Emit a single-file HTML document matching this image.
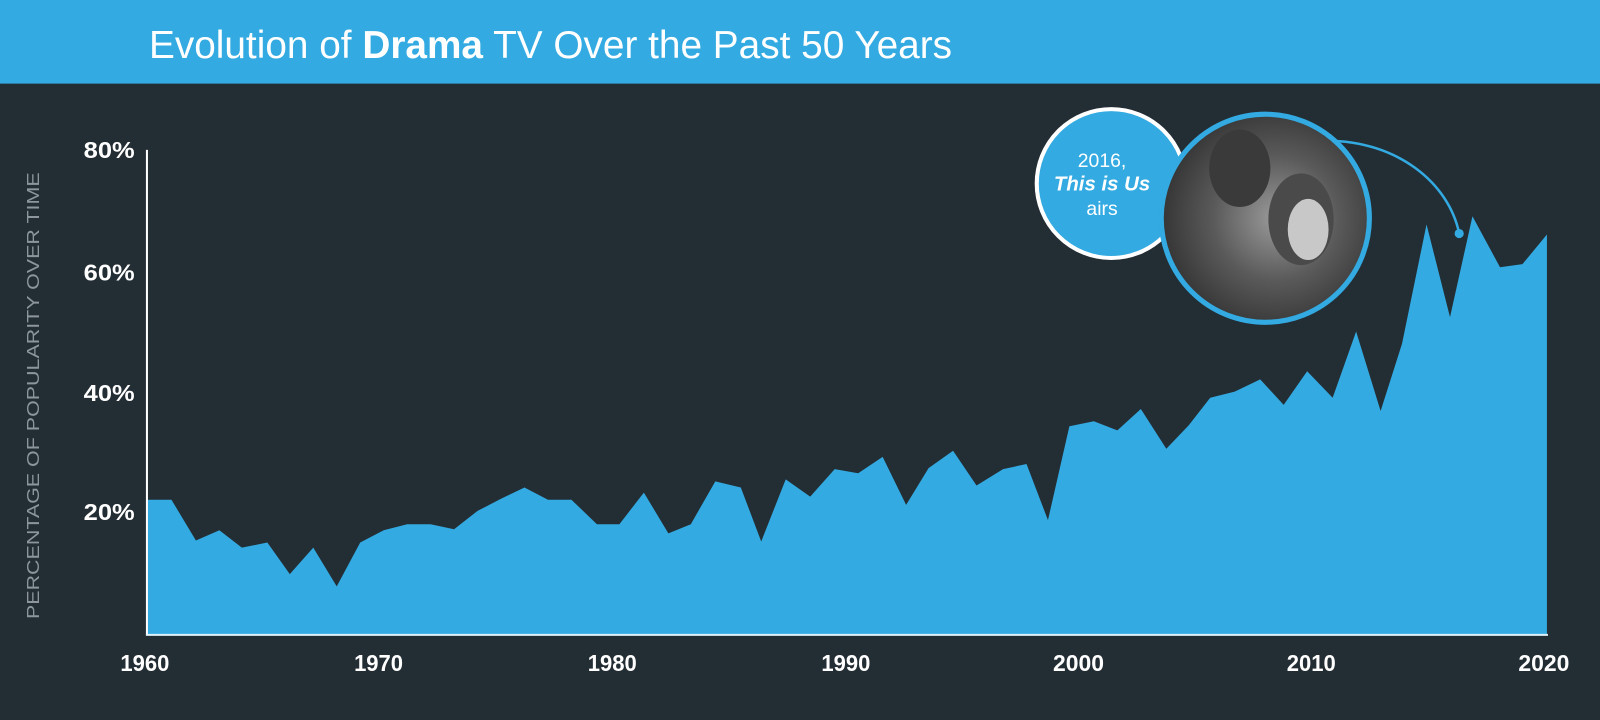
<!DOCTYPE html>
<html><head><meta charset="utf-8"><style>
html,body{margin:0;padding:0;background:#232d34;}
svg{display:block;}
</style></head><body>
<svg width="1600" height="720" viewBox="0 0 1568 706" preserveAspectRatio="none" xmlns="http://www.w3.org/2000/svg">
<rect x="0" y="0" width="1568" height="706" fill="#232d34"/>
<rect x="0" y="0" width="1568" height="82" fill="#33aae1"/>
<text x="146" y="57" font-family="Liberation Sans, sans-serif" font-size="38" fill="#ffffff" textLength="787" lengthAdjust="spacingAndGlyphs" font-weight="normal">Evolution of <tspan font-weight="bold">Drama</tspan> TV Over the Past 50 Years</text>

<polygon fill="#33aae1" points="145,622 145,490 168,490 192,530 215,520 237,537 262,532 284,563 307,537 330,575 353,532 376,520 399,514 422,514 445,519 468,501 491,489 514,478 537,490 560,490 585,514 607,514 631,483 655,523 677,514 701,472 726,478 746,531 770,470 794,487 818,460 841,464 865,448 888,495 910,459 934,442 957,476 983,460 1006,455 1027,510 1048,418 1072,413 1095,422 1118,401 1143,440 1165,417 1186,390 1210,384 1235,372 1258,397 1281,364 1306,390 1329,325 1353,403 1374,337 1398,220 1421,311 1443,212 1470,262 1492,259 1516,230 1516,622"/>
<line x1="144" y1="147" x2="144" y2="623" stroke="#ffffff" stroke-width="2"/>
<line x1="143" y1="622.5" x2="1517" y2="622.5" stroke="#dff1fa" stroke-width="2"/>

<g font-family="Liberation Sans, sans-serif" font-weight="bold" font-size="23" fill="#ffffff" lengthAdjust="spacingAndGlyphs">
<text x="82" y="155" textLength="50" lengthAdjust="spacingAndGlyphs">80%</text>
<text x="82" y="275" textLength="50" lengthAdjust="spacingAndGlyphs">60%</text>
<text x="82" y="393" textLength="50" lengthAdjust="spacingAndGlyphs">40%</text>
<text x="82" y="510" textLength="50" lengthAdjust="spacingAndGlyphs">20%</text>
<text x="118" y="658" textLength="48" lengthAdjust="spacingAndGlyphs">1960</text>
<text x="347" y="658" textLength="48" lengthAdjust="spacingAndGlyphs">1970</text>
<text x="576" y="658" textLength="48" lengthAdjust="spacingAndGlyphs">1980</text>
<text x="805" y="658" textLength="48" lengthAdjust="spacingAndGlyphs">1990</text>
<text x="1032" y="658" textLength="50" lengthAdjust="spacingAndGlyphs">2000</text>
<text x="1261" y="658" textLength="48" lengthAdjust="spacingAndGlyphs">2010</text>
<text x="1488" y="658" textLength="50" lengthAdjust="spacingAndGlyphs">2020</text>
</g>
<text transform="translate(38,388) rotate(-90)" text-anchor="middle" font-family="Liberation Sans, sans-serif" font-size="17" fill="#8d969c" textLength="438" lengthAdjust="spacingAndGlyphs">PERCENTAGE OF POPULARITY OVER TIME</text>

<path d="M1300,138 C1370,138 1420,180 1430,229" fill="none" stroke="#33aae1" stroke-width="2.5"/>
<circle cx="1430" cy="229" r="4.5" fill="#33aae1"/>

<defs><radialGradient id="ph" cx="0.55" cy="0.5" r="0.6">
<stop offset="0" stop-color="#9a9a9a"/><stop offset="0.5" stop-color="#5a5a5a"/><stop offset="1" stop-color="#2e2e2e"/></radialGradient></defs>
<circle cx="1089" cy="180" r="73" fill="#33aae1" stroke="#ffffff" stroke-width="4"/>
<g font-family="Liberation Sans, sans-serif" fill="#ffffff" text-anchor="middle">
<text x="1080" y="164" font-size="19">2016,</text>
<text x="1080" y="187" font-size="20" font-weight="bold" font-style="italic">This is Us</text>
<text x="1080" y="211" font-size="19">airs</text>
</g>
<circle cx="1240" cy="214" r="102" fill="url(#ph)" stroke="#33aae1" stroke-width="5"/>
<ellipse cx="1215" cy="165" rx="30" ry="38" fill="#3a3a3a"/>
<ellipse cx="1275" cy="215" rx="32" ry="45" fill="#4a4a4a"/>
<ellipse cx="1282" cy="225" rx="20" ry="30" fill="#c8c8c8"/>
</svg>
</body></html>
